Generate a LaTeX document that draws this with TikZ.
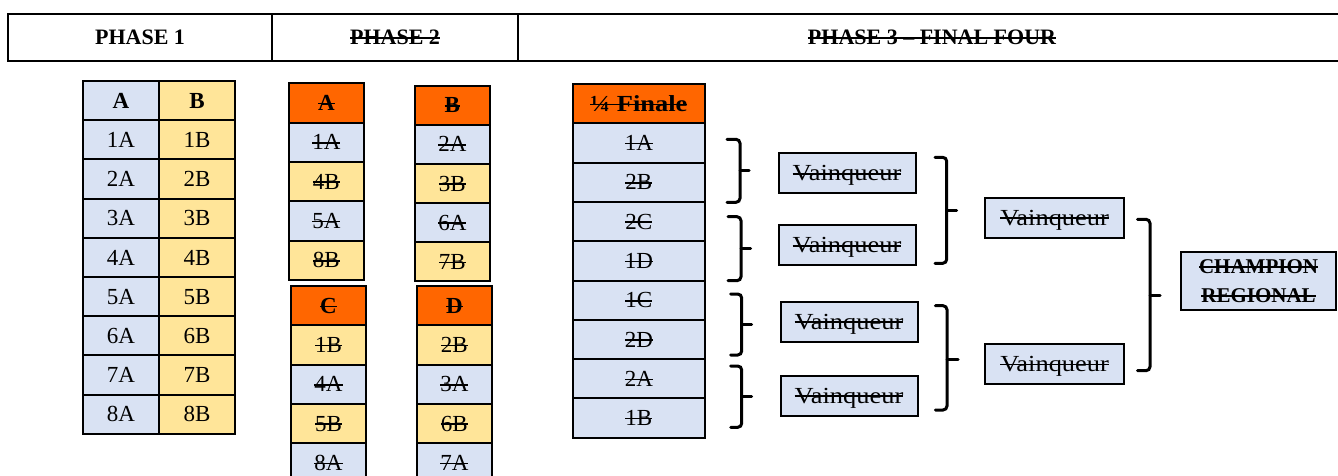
\documentclass[tikz,border=0pt]{standalone}
\usepackage{fontspec}
\setmainfont{Liberation Serif}
\newfontfamily\widefont[FakeStretch=1.15]{Liberation Serif}
\definecolor{lb}{HTML}{D9E2F3}
\definecolor{ly}{HTML}{FFE599}
\definecolor{orng}{HTML}{FF6600}
\newcommand\stk[1]{\setbox0=\hbox{#1}\rlap{\rule[0.27em]{\wd0}{1.5pt}}\box0}
\newcommand\brkt[6]{\draw[brk] (#1,#4) -- (#2,#4) -- (#2,#6) -- (#1,#6); \draw[brk,rounded corners=0pt] (#2,#5) -- (#3,#5);}
\tikzset{
  cell/.style={draw, line width=2pt, inner sep=0pt, minimum height=39.3pt,
    font=\fontsize{23}{27}\selectfont, text height=15.2pt, text depth=0pt, anchor=center},
  hdr/.style={draw, line width=2pt, inner sep=0pt, minimum height=46.7pt,
    font=\fontsize{22}{26}\selectfont\bfseries, text height=15pt, text depth=0pt},
  win/.style={draw, line width=2pt, fill=lb, inner sep=0pt, minimum width=137pt, minimum height=40pt,
    font=\widefont\fontsize{23}{27}\selectfont, text height=15.2pt, text depth=0pt},
  brk/.style={line width=3pt, rounded corners=4pt, line cap=round}
}
\begin{document}
\begin{tikzpicture}[x=1pt,y=-1pt]
\useasboundingbox (0,0) rectangle (1338,475);
\clip (0,0) rectangle (1338,475);
% header
\node[hdr, minimum width=264pt] (h1) at (140,37.35) {PHASE 1};
\node[hdr, minimum width=246pt] (h2) at (395,37.35) {\stk{PHASE 2}};
\node[hdr, minimum width=828pt] (h3) at (932,37.35) {\stk{PHASE 3 – FINAL FOUR}};
% phase 1
\node[cell, minimum width=76pt, fill=lb, font=\fontsize{23}{27}\selectfont\bfseries] (p1a0) at (121,100.6) {A};
\node[cell, minimum width=76pt, fill=ly, font=\fontsize{23}{27}\selectfont\bfseries] (p1b0) at (197,100.6) {B};
\foreach \i in {1,...,8}{
  \node[cell, minimum width=76pt, fill=lb] (p1a\i) at (121,{100.6+39.2*\i}) {\i A};
  \node[cell, minimum width=76pt, fill=ly] (p1b\i) at (197,{100.6+39.2*\i}) {\i B};
}
% phase 2 group A
\node[cell, minimum width=75.3pt, fill=orng, font=\fontsize{23}{27}\selectfont\bfseries] (gA0) at (326.4,102.95) {\stk{A}};
\foreach \t/\c [count=\i] in {1A/lb,4B/ly,5A/lb,8B/ly}
  \node[cell, minimum width=75.3pt, fill=\c] (gA\i) at (326.4,{102.95+39.3*\i}) {\stk{\t}};
% group B
\node[cell, minimum width=75.8pt, minimum height=39.1pt, fill=orng, font=\fontsize{23}{27}\selectfont\bfseries] (gB0) at (452.4,105.25) {\stk{B}};
\foreach \t/\c [count=\i] in {2A/lb,3B/ly,6A/lb,7B/ly}
  \node[cell, minimum width=75.8pt, minimum height=39.1pt, fill=\c] (gB\i) at (452.4,{105.25+39.1*\i}) {\stk{\t}};
% group C
\node[cell, minimum width=75pt, fill=orng, font=\fontsize{23}{27}\selectfont\bfseries] (gC0) at (328.5,305.65) {\stk{C}};
\foreach \t/\c [count=\i] in {1B/ly,4A/lb,5B/ly,8A/lb}
  \node[cell, minimum width=75pt, fill=\c] (gC\i) at (328.5,{305.65+39.3*\i}) {\stk{\t}};
% group D
\node[cell, minimum width=74.7pt, fill=orng, font=\fontsize{23}{27}\selectfont\bfseries] (gD0) at (454.4,305.65) {\stk{D}};
\foreach \t/\c [count=\i] in {2B/ly,3A/lb,6B/ly,7A/lb}
  \node[cell, minimum width=74.7pt, fill=\c] (gD\i) at (454.4,{305.65+39.3*\i}) {\stk{\t}};
% phase 3 quarter finals
\node[cell, minimum width=132.3pt, fill=orng, font=\widefont\fontsize{23}{27}\selectfont\bfseries] (q0) at (638.9,103.65) {\stk{¼ Finale}};
\foreach \t [count=\i] in {1A,2B,2C,1D,1C,2D,2A,1B}
  \node[cell, minimum width=132.3pt, fill=lb] (q\i) at (638.9,{103.65+39.3*\i}) {\stk{\t}};
% winners
\node[win] (v1) at (847,173.3) {\stk{Vainqueur}};
\node[win] (v2) at (847,245.2) {\stk{Vainqueur}};
\node[win] (v3) at (849,321.5) {\stk{Vainqueur}};
\node[win] (v4) at (849,395.5) {\stk{Vainqueur}};
\node[win, minimum width=139pt] (s1) at (1054.6,217.5) {\stk{Vainqueur}};
\node[win, minimum width=139pt] (s2) at (1054.6,363.7) {\stk{Vainqueur}};
\node[win, minimum width=155pt, minimum height=58pt, align=center, text height=, text depth=,
  font=\fontsize{21}{29}\selectfont\bfseries] (ch) at (1258.5,281) {\stk{CHAMPION}\\\stk{REGIONAL}};
% brackets
\brkt{727}{740}{749}{139.3}{170}{202.3}
\brkt{728}{741}{750.5}{216.7}{248}{280.7}
\brkt{730.7}{741.7}{751.7}{294}{324}{355}
\brkt{730.7}{741.7}{751.7}{366}{396.7}{427.3}
\brkt{935}{946.7}{956.7}{157.3}{210}{263.3}
\brkt{935.4}{947}{958}{305.7}{359.3}{410}
\brkt{1137.5}{1150}{1160}{219.3}{295}{370.7}
\end{tikzpicture}
\end{document}
